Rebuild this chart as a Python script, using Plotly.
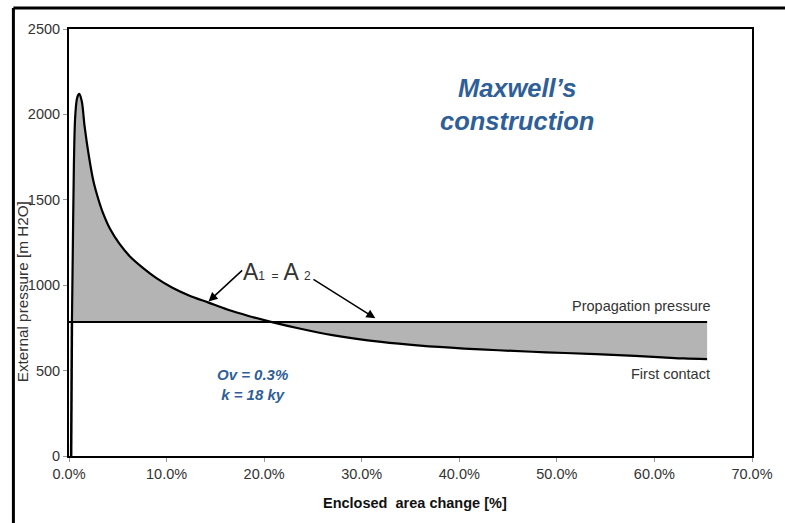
import plotly.graph_objects as go

# First contact curve (enclosed area change %, external pressure m H2O)
fc_x = [0.22, 0.3, 0.4, 0.5, 0.65, 0.85, 1.05, 1.3, 1.6, 2.0, 2.5, 3.0, 3.5, 4.2, 5.2,
        6.3, 7.6, 9.0, 10.6, 12.3, 14.3, 16.3, 18.4, 20.8, 23.5, 27.0, 32.0, 36.0,
        40.5, 44.0, 48.9, 54.0, 58.0, 60.8, 63.0, 65.4]
fc_y = [0, 785, 1250, 1700, 2000, 2100, 2120, 2080, 1930, 1770, 1610, 1505, 1420, 1330, 1240,
        1165, 1100, 1040, 985, 940, 898, 856, 820, 784, 748, 708, 668, 646,
        629, 619, 607, 597, 586, 578, 571, 567]

# Propagation pressure line
pp_x = [0.0, 65.4]
pp_y = [785, 785]

x_ticks = [0, 10, 20, 30, 40, 50, 60, 70]
y_ticks = [0, 500, 1000, 1500, 2000, 2500]

FONT = "Liberation Sans, Arial, sans-serif"
BLUE = "#2f5f98"
GREY_TXT = "#333333"

start = fc_y.index(pp_y[0])
cx = fc_x[start:]
cy = fc_y[start:]

fig = go.Figure()
fig.add_trace(go.Scatter(x=cx, y=[pp_y[0]] * len(cx), mode="lines",
                         line=dict(width=0, color="rgba(0,0,0,0)"), hoverinfo="skip",
                         showlegend=False))
fig.add_trace(go.Scatter(x=cx, y=cy, mode="lines", fill="tonexty", fillcolor="#b4b4b4",
                         line=dict(color="black", width=2.2, shape="spline", smoothing=1.0),
                         showlegend=False))
fig.add_trace(go.Scatter(x=fc_x[:start + 1], y=fc_y[:start + 1], mode="lines",
                         line=dict(color="black", width=2.5), showlegend=False))
fig.add_trace(go.Scatter(x=pp_x, y=pp_y, mode="lines",
                         line=dict(color="black", width=2), showlegend=False))

fig.update_layout(
    width=785, height=523,
    margin=dict(l=69, r=28, t=29, b=67),
    paper_bgcolor="white", plot_bgcolor="white",
    font=dict(family=FONT, size=14, color=GREY_TXT),
    xaxis=dict(range=[0, 70], tickvals=x_ticks,
               ticktext=[f"{v:.1f}%" for v in x_ticks],
               showgrid=False, zeroline=False, showline=True, mirror=True,
               linecolor="black", linewidth=2, ticks="outside", ticklen=4,
               tickcolor="#999999", tickfont=dict(size=14.5, color=GREY_TXT)),
    yaxis=dict(range=[0, 2500], tickvals=y_ticks,
               showgrid=False, zeroline=False, showline=True, mirror=True,
               linecolor="black", linewidth=2, ticks="outside", ticklen=4,
               tickcolor="#999999", tickfont=dict(size=14.5, color=GREY_TXT)),
)

annotations = [
    dict(text="<b>Enclosed  area change [%]</b>", xref="paper", yref="paper",
         x=0.506, y=-0.11, yanchor="middle", xanchor="center", showarrow=False,
         font=dict(size=14.5, color="#111111")),
    dict(text="External pressure [m H2O]", xref="paper", yref="paper",
         x=-0.0685, y=0.384, textangle=-90, xanchor="center", yanchor="middle",
         showarrow=False, font=dict(size=15.3, color=GREY_TXT)),
    dict(text="<b><i>Maxwell’s<br>construction</i></b>", x=45.9, y=2058, showarrow=False,
         font=dict(size=25.5, color=BLUE), align="center"),
    dict(text="<b><i>Ov = 0.3%<br>k = 18 ky</i></b>", x=18.8, y=420, showarrow=False,
         font=dict(size=15, color=BLUE), align="center"),
    dict(text="Propagation pressure", x=66.0, y=880, xanchor="right", showarrow=False,
         font=dict(size=14.5, color=GREY_TXT)),
    dict(text="First contact", x=65.9, y=480, xanchor="right", showarrow=False,
         font=dict(size=14.5, color=GREY_TXT)),
    dict(text="A<span style='font-size:12px'>1</span> <span style='font-size:12px'>=</span> A <span style='font-size:12px'>2</span>",
         x=21.3, y=1075, showarrow=False, font=dict(size=23, color=GREY_TXT)),
    dict(x=14.3, y=905, ax=17.9, ay=1095, xref="x", yref="y", axref="x", ayref="y",
         showarrow=True, arrowhead=2, arrowsize=1.2, arrowwidth=1.5, arrowcolor="black", text=""),
    dict(x=31.4, y=806, ax=24.9, ay=1040, xref="x", yref="y", axref="x", ayref="y",
         showarrow=True, arrowhead=2, arrowsize=1.2, arrowwidth=1.5, arrowcolor="black", text=""),
]
fig.update_layout(annotations=annotations)

# outer frame (top and left edges of the original picture border)
fig.add_shape(type="line", xref="paper", yref="paper", x0=-0.0814, x1=1.05, y0=1.049, y1=1.049,
              line=dict(color="black", width=3))
fig.add_shape(type="line", xref="paper", yref="paper", x0=-0.0814, x1=-0.0814, y0=1.049, y1=-0.2,
              line=dict(color="black", width=3))

fig.write_html("out.html")
